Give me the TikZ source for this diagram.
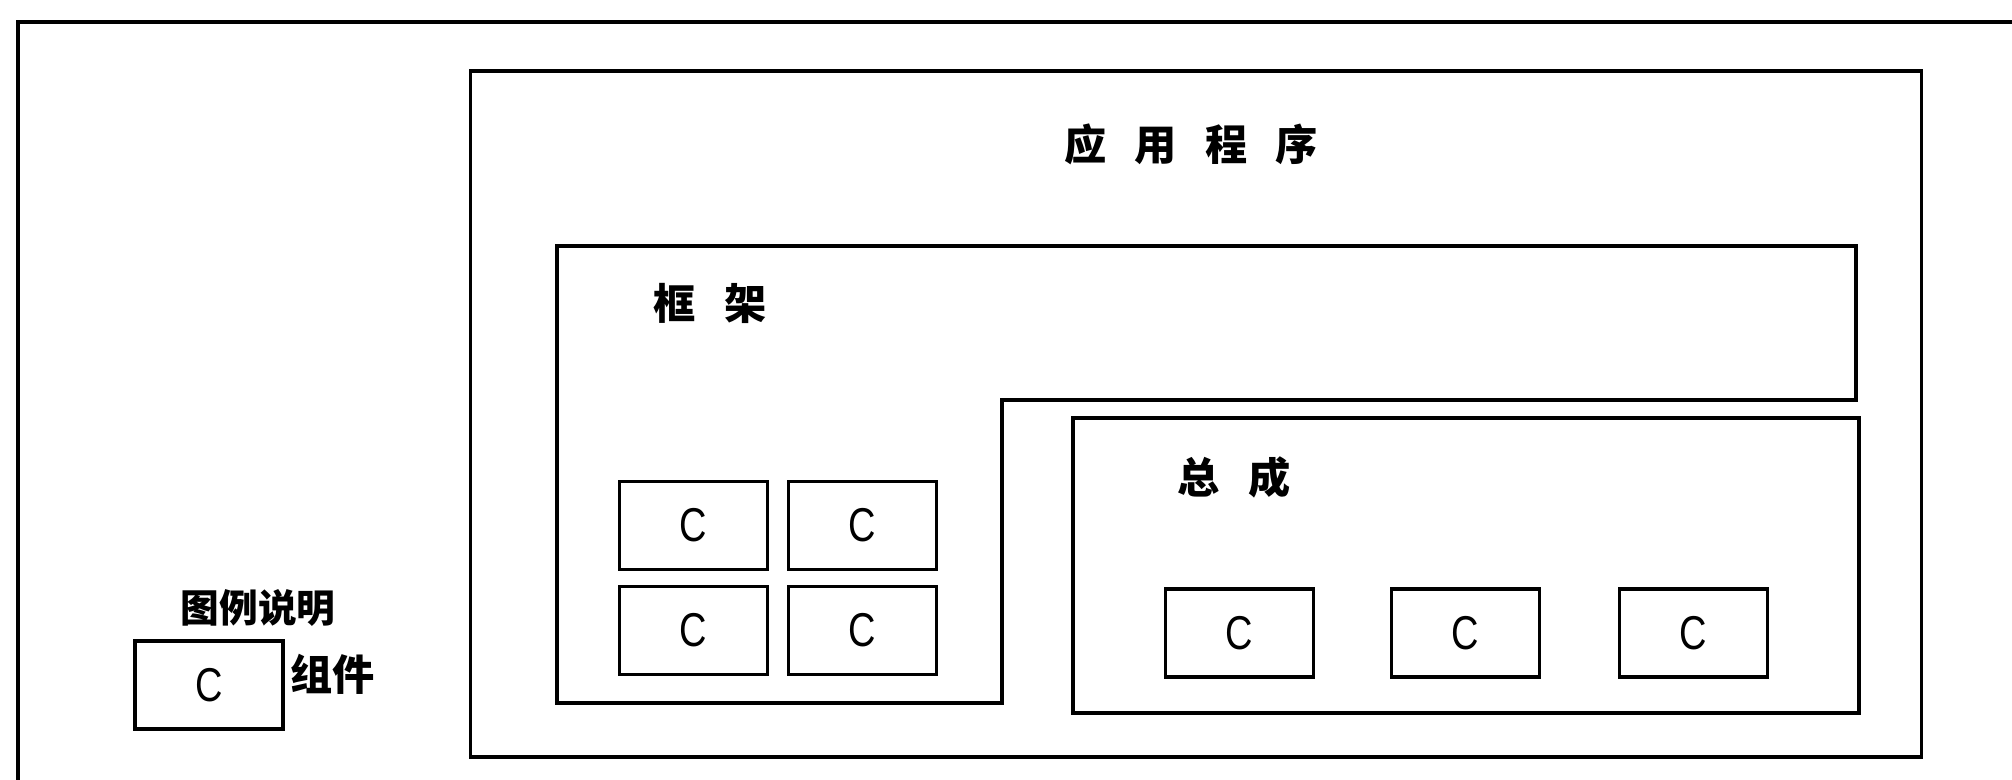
\documentclass[tikz,border=0pt]{standalone}
\usepackage{fontspec}
\setmainfont{Liberation Sans}
\newfontfamily\cfont{Liberation Sans}[FakeStretch=0.8]
\newfontfamily\cjk{Noto Sans CJK SC}
\begin{document}
\begin{tikzpicture}[x=0.01cm,y=-0.01cm,
  frame/.style={draw,line width=1pt,line join=miter},
  comp/.style={draw,line width=1pt,minimum width=1.48cm,minimum height=0.88cm,inner sep=0pt,font=\cfont\fontsize{13.5}{15}\selectfont},
  cjklabel/.style={inner sep=0pt,font=\cjk\bfseries\fontsize{12}{14}\selectfont},
]
\useasboundingbox (0,0) rectangle (2012,780);
% outer frame (cropped at right and bottom)
\coordinate (ot) at (18,22);
\coordinate (or) at (2012,22);
\coordinate (ob) at (18,780);
\draw[frame] (or) -- (ot) -- (ob);
% application
\node[frame,minimum width=14.5cm,minimum height=6.86cm,inner sep=0pt] (app) at (1196,414) {};
\node[cjklabel] (apptitle) at (1191,144) {应\hspace{8pt}用\hspace{8pt}程\hspace{8pt}序};
% framework L-shape
\draw[frame] (557,246) -- (1856,246) -- (1856,400) -- (1002,400) -- (1002,703) -- (557,703) -- cycle;
\node[cjklabel] (fwtitle) at (710,303) {框\hspace{8pt}架};
\node[comp] (f1) at (693.5,525.5) {C};
\node[comp] (f2) at (862.5,525.5) {C};
\node[comp] (f3) at (693.5,630.5) {C};
\node[comp] (f4) at (862.5,630.5) {C};
% assembly
\node[frame,minimum width=7.86cm,minimum height=2.95cm,inner sep=0pt] (asm) at (1466,565.5) {};
\node[cjklabel] (asmtitle) at (1234,477) {总\hspace{8pt}成};
\node[comp] (a1) at (1239.5,633) {C};
\node[comp] (a2) at (1465.5,633) {C};
\node[comp] (a3) at (1693.5,633) {C};
% legend
\node[cjklabel,font=\cjk\bfseries\fontsize{11}{13}\selectfont] (legtitle) at (258,608) {图例说明};
\node[comp] (leg) at (209,685) {C};
\node[cjklabel,anchor=west] (legtext) at (290,674) {组件};
\end{tikzpicture}
\end{document}
